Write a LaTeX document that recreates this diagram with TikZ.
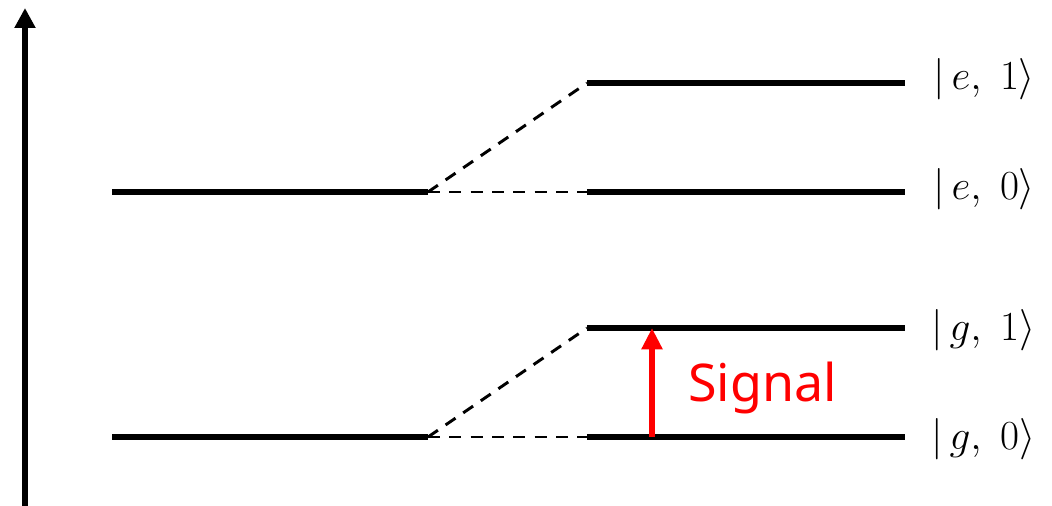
\RequirePackage{fix-cm}
\documentclass[tikz,border=0pt]{standalone}
\usepackage{fontspec}
\setsansfont{Noto Sans}
\usetikzlibrary{arrows.meta}
\begin{document}
\begin{tikzpicture}[x=0.75pt,y=-0.75pt,
  level/.style={line width=4.5pt},
  link/.style={line width=2.2pt, dash pattern=on 9pt off 7pt},
  ket/.style={anchor=base west, font=\fontsize{31}{36}\selectfont, inner sep=0pt},
  axisline/.style={line width=4.5pt, -{Triangle[length=15pt,width=15pt]}},
  signalarrow/.style={red, line width=4.5pt, -{Triangle[length=16pt,width=15pt]}},
]
\useasboundingbox (0,0) rectangle (1052,506);
% axis
\coordinate (ax0) at (25,506);
\coordinate (ax1) at (25,8);
\draw[axisline] (ax0) -- (ax1);
% left levels
\coordinate (E0a) at (112,192); \coordinate (E0b) at (428,192);
\coordinate (G0a) at (112,437); \coordinate (G0b) at (428,437);
\draw[level] (E0a) -- (E0b);
\draw[level] (G0a) -- (G0b);
% right levels
\coordinate (e1a) at (587,83);  \coordinate (e1b) at (905,83);
\coordinate (e0a) at (587,192); \coordinate (e0b) at (905,192);
\coordinate (g1a) at (587,328); \coordinate (g1b) at (905,328);
\coordinate (g0a) at (587,437); \coordinate (g0b) at (905,437);
\draw[level] (e1a) -- (e1b);
\draw[level] (e0a) -- (e0b);
\draw[level] (g1a) -- (g1b);
\draw[level] (g0a) -- (g0b);
% dashed links
\draw[link] (E0b) -- (e1a);
\draw[link] (E0b) -- (e0a);
\draw[link] (G0b) -- (g1a);
\draw[link] (G0b) -- (g0a);
% labels
\node[ket] (le1) at (933,90)  {$\bigl|\,e,\;1\rangle$};
\node[ket] (le0) at (933,199) {$\bigl|\,e,\;0\rangle$};
\node[ket] (lg1) at (931,340) {$\bigl|\,g,\;1\rangle$};
\node[ket] (lg0) at (931,449) {$\bigl|\,g,\;0\rangle$};
% signal
\coordinate (s0) at (652,437);
\coordinate (s1) at (652,328);
\draw[signalarrow] (s0) -- (s1);
\node[anchor=base west, inner sep=0pt, text=red, font=\sffamily\fontsize{39}{44}\selectfont] (sig) at (688,401) {Signal};
\end{tikzpicture}
\end{document}
